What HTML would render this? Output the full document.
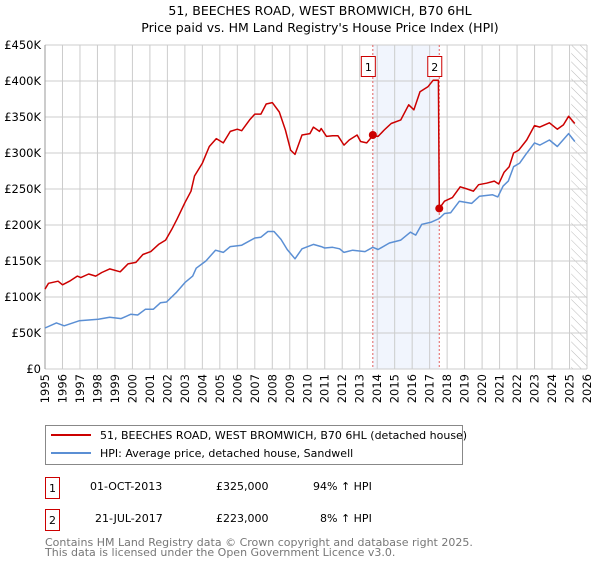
<!DOCTYPE html>
<html><head><meta charset="utf-8"><style>
body{margin:0;background:#fff;font-family:"DejaVu Sans","Liberation Sans",sans-serif;}
svg text{font-family:"DejaVu Sans","Liberation Sans",sans-serif;}
</style></head><body>
<svg id="c" width="600" height="560" viewBox="0 0 600 560" xmlns="http://www.w3.org/2000/svg">
<defs><pattern id="hatch" width="6" height="6" patternUnits="userSpaceOnUse" patternTransform="rotate(-45)"><line x1="0" y1="0" x2="0" y2="6" stroke="#bbb" stroke-width="1"/></pattern></defs>
<text x="320" y="15" text-anchor="middle" font-size="12.5">51, BEECHES ROAD, WEST BROMWICH, B70 6HL</text>
<text x="320" y="32" text-anchor="middle" font-size="12.5">Price paid vs. HM Land Registry's House Price Index (HPI)</text>
<g id="plot"></g>
<g>
<rect x="45.5" y="425.5" width="417" height="39" fill="#fff" stroke="#888"/>
<line x1="51" y1="435" x2="91" y2="435" stroke="#cc0000" stroke-width="2"/>
<text x="100" y="439" font-size="11">51, BEECHES ROAD, WEST BROMWICH, B70 6HL (detached house)</text>
<line x1="51" y1="453" x2="91" y2="453" stroke="#5b8fd4" stroke-width="2"/>
<text x="100" y="457" font-size="11">HPI: Average price, detached house, Sandwell</text>
</g>
<g font-size="11">
<rect x="45.5" y="477.5" width="14" height="21" fill="#fff" stroke="#cc0000"/>
<text x="52.5" y="492" text-anchor="middle">1</text>
<text x="90" y="490">01-OCT-2013</text><text x="216" y="490">£325,000</text><text x="313" y="490">94% ↑ HPI</text>
<rect x="45.5" y="509.5" width="14" height="21" fill="#fff" stroke="#cc0000"/>
<text x="52.5" y="524" text-anchor="middle">2</text>
<text x="95" y="522">21-JUL-2017</text><text x="216" y="522">£223,000</text><text x="320" y="522">8% ↑ HPI</text>
</g>
<text x="45" y="546" font-size="11" fill="#777">Contains HM Land Registry data © Crown copyright and database right 2025.</text>
<text x="45" y="556" font-size="11" fill="#777">This data is licensed under the Open Government Licence v3.0.</text>
</svg>
<script>
const yTicks=[0,50,100,150,200,250,300,350,400,450];
const yTickLabels=["£0","£50K","£100K","£150K","£200K","£250K","£300K","£350K","£400K","£450K"];
const xYears=[1995,1996,1997,1998,1999,2000,2001,2002,2003,2004,2005,2006,2007,2008,2009,2010,2011,2012,2013,2014,2015,2016,2017,2018,2019,2020,2021,2022,2023,2024,2025,2026];
const redT=[1995,1995.2,1995.75,1996,1996.4,1996.85,1997.05,1997.5,1997.9,1998.25,1998.7,1999.3,1999.75,2000.2,2000.6,2001.05,2001.5,2001.9,2002.25,2002.55,2003,2003.35,2003.55,2004,2004.4,2004.8,2005.2,2005.6,2006,2006.25,2006.7,2007,2007.35,2007.65,2008,2008.4,2008.75,2009.05,2009.3,2009.7,2010.15,2010.35,2010.7,2010.8,2011.1,2011.45,2011.75,2012.1,2012.4,2012.85,2013.05,2013.4,2013.75,2014.05,2014.4,2014.8,2015.35,2015.8,2016.1,2016.45,2016.9,2017.2,2017.5,2017.55,2017.85,2018.3,2018.75,2019.15,2019.5,2019.8,2020.25,2020.7,2020.95,2021.25,2021.55,2021.8,2022.1,2022.55,2023,2023.3,2023.85,2024.3,2024.65,2024.95,2025.3];
const redV=[111,119,122,117,122,129,127,132,129,134,139,135,146,148,159,163,173,179,194,208,231,247,268,286,309,320,314,330,333,331,346,354,354,368,370,357,332,304,298,325,327,336,330,334,323,324,324,311,318,325,316,314,324,323,332,341,346,367,360,385,392,401,401,223,233,238,253,250,247,256,258,261,257,273,281,300,304,318,338,336,342,333,339,351,341];
const blueT=[1995,1995.65,1996.1,1996.95,1998.05,1998.7,1999.35,1999.9,2000.3,2000.75,2001.2,2001.6,2001.95,2002.5,2003,2003.45,2003.65,2004.2,2004.75,2005.2,2005.6,2006.25,2007,2007.35,2007.75,2008.1,2008.5,2008.85,2009.3,2009.7,2010.35,2010.8,2011,2011.45,2011.85,2012.1,2012.6,2013.3,2013.75,2014.05,2014.7,2015.35,2015.9,2016.2,2016.55,2017.1,2017.55,2017.85,2018.2,2018.7,2019.4,2019.85,2020.6,2020.9,2021.2,2021.5,2021.8,2022.15,2022.5,2023,2023.3,2023.85,2024.3,2024.95,2025.3];
const blueV=[57,64,60,67,69,72,70,76,75,83,83,92,93,106,120,129,140,150,165,162,170,172,182,183,191,191,180,166,153,167,173,170,168,169,167,162,165,163,169,166,175,179,190,186,201,204,209,216,217,233,230,240,242,239,254,261,281,286,298,314,311,318,309,327,316];
const saleT=[2013.75,2017.55];
const saleV=[325,223];
const saleLabels=["1","2"];
const X0=45,X1=587,Y0=369,Y1=45;
const xs=t=>X0+(t-1995)/(2026-1995)*(X1-X0);
const ys=v=>Y0-v/450*(Y0-Y1);
const NS="http://www.w3.org/2000/svg";
const g=document.getElementById('plot');
function mk(tag,attrs){const e=document.createElementNS(NS,tag);for(const k in attrs)e.setAttribute(k,attrs[k]);g.appendChild(e);return e;}
let r=mk('rect',{x:xs(saleT[0]),y:Y1,width:xs(saleT[1])-xs(saleT[0]),height:Y0-Y1,fill:'#eef3fc',opacity:0.8});


let h=mk('rect',{x:xs(2025.1),y:Y1,width:X1-xs(2025.1),height:Y0-Y1,fill:'url(#hatch)'});


xYears.forEach(y=>{let l=mk('line',{x1:xs(y),x2:xs(y),y1:Y1,y2:Y0,stroke:'#cccccc','stroke-width':1});


const lx=xs(y)+4,ly=Y0+5;
let t=mk('text',{x:lx,y:ly,'text-anchor':'end','font-size':11.5,transform:'rotate(-90 '+lx+' '+ly+')'});t.textContent=y;

});
yTicks.forEach((v,i)=>{let l=mk('line',{x1:X0,x2:X1,y1:ys(v),y2:ys(v),stroke:'#cccccc','stroke-width':1});


let t=mk('text',{x:X0-4,y:ys(v)+4,'text-anchor':'end','font-size':11.5});t.textContent=yTickLabels[i];

});
let ax=mk('line',{x1:X0,x2:X0,y1:Y1,y2:Y0,stroke:'#999'});


saleT.forEach((t,i)=>{let l=mk('line',{x1:xs(t),x2:xs(t),y1:Y1,y2:Y0,stroke:'#e06060','stroke-dasharray':'2,2','stroke-width':1});

});
function line(T,V,col,name){let d=T.map((t,i)=>(i?'L':'M')+xs(t).toFixed(1)+','+ys(V[i]).toFixed(1)).join('');
let p=mk('path',{d:d,fill:'none',stroke:col,'stroke-width':1.5,'stroke-linejoin':'round'});

}
line(blueT,blueV,'#5b8fd4','hpi-line');
line(redT,redV,'#cc0000','property-line');
saleT.forEach((t,i)=>{let c=mk('circle',{cx:xs(t),cy:ys(saleV[i]),r:4,fill:'#cc0000'});


let b=mk('rect',{x:xs(t)-11.5,y:56.5,width:14,height:20,fill:'#fff',stroke:'#cc0000'});


let tx=mk('text',{x:xs(t)-4.5,y:71,'text-anchor':'middle','font-size':11});tx.textContent=saleLabels[i];

});
</script>
</body></html>
